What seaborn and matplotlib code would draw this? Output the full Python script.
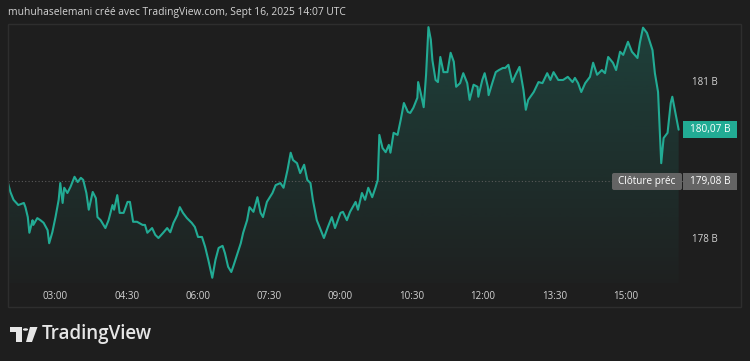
import numpy as np
import pandas as pd
import matplotlib
matplotlib.use("Agg")
import matplotlib.pyplot as plt
import matplotlib.dates as mdates
import matplotlib.transforms as mtransforms
from matplotlib.patches import Rectangle, Polygon, Circle, FancyBboxPatch
import seaborn as sns

# Données (heure locale, prix en milliards)
times = [
    "02:00", "02:03", "02:07", "02:13", "02:20", "02:22", "02:25", "02:27", "02:31", "02:32",
    "02:37", "02:41", "02:45", "02:50", "02:52", "02:56", "03:00", "03:04", "03:06", "03:09",
    "03:11", "03:15", "03:19", "03:24", "03:28", "03:32", "03:35", "03:39", "03:42", "03:47",
    "03:51", "03:53", "03:57", "04:03", "04:07", "04:12", "04:14", "04:18", "04:21", "04:26",
    "04:31", "04:34", "04:38", "04:43", "04:50", "04:53", "04:56", "05:02", "05:06", "05:10",
    "05:16", "05:21", "05:25", "05:29", "05:34", "05:37", "05:41", "05:46", "05:52", "05:56",
    "06:00", "06:05", "06:09", "06:13", "06:18", "06:22", "06:26", "06:31", "06:34", "06:38",
    "06:42", "06:45", "06:50", "06:54", "06:57", "07:02", "07:05", "07:10", "07:15", "07:19",
    "07:22", "07:27", "07:34", "07:38", "07:44", "07:48", "07:53", "07:57", "08:00", "08:05",
    "08:09", "08:14", "08:18", "08:22", "08:25", "08:30", "08:34", "08:39", "08:44", "08:49",
    "08:53", "09:00", "09:03", "09:08", "09:12", "09:19", "09:22", "09:27", "09:31", "09:35",
    "09:40", "09:44", "09:47", "09:49", "09:53", "09:57", "10:01", "10:03", "10:07", "10:12",
    "10:16", "10:20", "10:25", "10:28", "10:32", "10:37", "10:38", "10:41", "10:45", "10:48",
    "10:51", "10:54", "10:56", "11:00", "11:03", "11:06", "11:10", "11:15", "11:19", "11:23",
    "11:26", "11:31", "11:35", "11:40", "11:43", "11:48", "11:53", "11:54", "11:59", "12:02",
    "12:06", "12:07", "12:12", "12:16", "12:20", "12:25", "12:28", "12:32", "12:37", "12:41",
    "12:46", "12:51", "12:54", "12:57", "13:04", "13:10", "13:15", "13:21", "13:25", "13:29",
    "13:35", "13:41", "13:47", "13:53", "13:56", "14:00", "14:04", "14:09", "14:15", "14:19",
    "14:24", "14:30", "14:34", "14:38", "14:44", "14:48", "14:53", "14:57", "15:03", "15:08",
    "15:15", "15:18", "15:22", "15:27", "15:34", "15:37", "15:41", "15:45", "15:48", "15:53",
    "15:57", "15:59", "16:03", "16:07",
]
prices = [
    179.05, 178.88, 178.73, 178.63, 178.67, 178.59, 178.40, 178.10, 178.34, 178.25,
    178.38, 178.34, 178.29, 178.15, 177.90, 178.11, 178.40, 178.73, 179.05, 178.67,
    178.96, 178.86, 178.98, 179.17, 179.07, 179.15, 179.11, 178.86, 178.54, 178.88,
    178.76, 178.40, 178.34, 178.19, 178.34, 178.63, 178.54, 178.82, 178.48, 178.48,
    178.69, 178.69, 178.31, 178.31, 178.25, 178.25, 178.10, 178.19, 178.06, 178.00,
    178.10, 178.19, 178.11, 178.29, 178.44, 178.59, 178.48, 178.38, 178.29, 178.21,
    178.02, 178.02, 177.83, 177.58, 177.24, 177.58, 177.81, 177.85, 177.71, 177.45,
    177.35, 177.48, 177.71, 177.90, 178.10, 178.34, 178.59, 178.50, 178.78, 178.48,
    178.40, 178.69, 178.86, 179.01, 179.05, 178.96, 179.30, 179.63, 179.49, 179.43,
    179.24, 179.40, 179.11, 179.05, 178.73, 178.34, 178.19, 178.00, 178.21, 178.40,
    178.19, 178.48, 178.50, 178.34, 178.50, 178.69, 178.54, 178.86, 178.73, 178.96,
    178.78, 178.96, 179.11, 179.97, 179.72, 179.64, 179.78, 179.63, 180.01, 179.97,
    180.26, 180.58, 180.41, 180.39, 180.49, 180.68, 180.98, 180.79, 180.50, 181.12,
    182.03, 181.79, 181.40, 181.02, 180.98, 181.46, 181.17, 181.17, 181.54, 181.37,
    180.89, 180.96, 181.15, 180.96, 180.64, 180.93, 180.89, 180.70, 181.02, 181.15,
    180.89, 180.73, 180.98, 181.17, 181.21, 181.25, 181.25, 181.31, 180.98, 181.12,
    181.27, 180.83, 180.45, 180.64, 180.79, 180.98, 180.96, 181.15, 181.02, 181.17,
    181.02, 181.02, 181.08, 180.98, 181.06, 180.96, 180.79, 180.96, 181.08, 181.35,
    181.12, 181.21, 181.15, 181.46, 181.35, 181.21, 181.56, 181.50, 181.75, 181.56,
    181.44, 181.73, 182.02, 181.92, 181.59, 181.15, 180.79, 179.43, 179.91, 180.01,
    180.58, 180.70, 180.39, 180.07,
]
prev_close = 179.08
tick_times = ["03:00", "04:30", "06:00", "07:30", "09:00", "10:30", "12:00", "13:30", "15:00"]
price_ticks = [178, 181]
title = "muhuhaselemani créé avec TradingView.com, Sept 16, 2025 14:07 UTC"

BG = "#1e1e1e"
TEAL = "#22ab94"
GREY_BOX = "#646464"
TXT = "#d4d4d4"
W, H = 750, 361

sns.set_theme(style="dark", rc={"axes.facecolor": BG, "figure.facecolor": BG})
plt.rcParams["font.family"] = ["Open Sans", "DejaVu Sans"]

day = "2025-09-16 "
df = pd.DataFrame({"time": pd.to_datetime([day + t for t in times]), "price": prices})

fig = plt.figure(figsize=(W / 100, H / 100), dpi=100, facecolor=BG)
# zone de tracé en pixels : x 8..683, y 24..283
ax = fig.add_axes([8 / W, (H - 283) / H, 675 / W, 259 / H])
ax.set_facecolor(BG)

t0 = pd.Timestamp(day + "02:00")
x_lo, x_hi = t0, t0 + pd.Timedelta(minutes=852.5)
y_lo, y_hi = 177.14, 182.09

sns.lineplot(data=df, x="time", y="price", ax=ax, color=TEAL, linewidth=1.5, zorder=4)

# remplissage en dégradé sous la courbe
poly = ax.fill_between(df["time"], df["price"], y_lo, color="none", lw=0)
clip = poly.get_paths()[0]
grad = np.zeros((256, 1, 4))
grad[..., :3] = matplotlib.colors.to_rgb(TEAL)
grad[:, 0, 3] = np.linspace(0.25, 0.02, 256)
im = ax.imshow(grad, extent=[mdates.date2num(x_lo), mdates.date2num(x_hi), y_lo, y_hi],
               aspect="auto", origin="upper", zorder=2)
im.set_clip_path(clip, transform=ax.transData)

ax.axhline(prev_close, color="#5a5a5a", ls=(0, (1, 2)), lw=0.8, zorder=3)

ax.set_xlim(x_lo, x_hi)
ax.set_ylim(y_lo, y_hi)
ax.set_xticks(pd.to_datetime([day + t for t in tick_times]))
ax.xaxis.set_major_formatter(mdates.DateFormatter("%H:%M"))
ax.yaxis.tick_right()
ax.set_yticks(price_ticks)
ax.set_yticklabels([f"{v} B" for v in price_ticks])
ax.tick_params(axis="x", length=0, pad=6, labelsize=7, colors=TXT)
ax.tick_params(axis="y", length=0, pad=6.5, labelsize=7, colors=TXT)
for lab in ax.get_yticklabels():
    lab.set_horizontalalignment("left")
ax.set_xlabel("")
ax.set_ylabel("")
ax.grid(False)
for s in ax.spines.values():
    s.set_visible(False)

# cadre du graphique
fig.add_artist(Rectangle((8 / W, (H - 307) / H), 733 / W, 283 / H, transform=fig.transFigure,
                         fill=False, ec="#2e2e2e", lw=1))

fig.text(8 / W, (H - 12) / H, title, ha="left", va="center", fontsize=7.4, color=TXT)

# étiquettes de prix à droite
ident = mtransforms.IdentityTransform()


def price_box(x0, x1, value, fc, text, rounded=False):
    y = ax.transData.transform((0, value))[1]
    style = "round,pad=0,rounding_size=2" if rounded else "square,pad=0"
    fig.add_artist(FancyBboxPatch((x0, y - 8.5), x1 - x0, 17, boxstyle=style,
                                  transform=ident, fc=fc, ec="none", zorder=5))
    fig.text((x0 + x1) / 2 / W, y / H, text, ha="center", va="center",
             fontsize=7.2, color="white", zorder=6)


price_box(683, 737, prices[-1], TEAL, f"{prices[-1]:.2f} B".replace(".", ","))
price_box(612, 682, prev_close, GREY_BOX, "Clôture préc", rounded=True)
price_box(683, 737, prev_close, GREY_BOX, f"{prev_close:.2f} B".replace(".", ","))

# logo TradingView
def fy(y):
    return (H - y) / H


logo_c = "#e6e6e6"
fig.add_artist(Polygon([(10 / W, fy(327)), (22 / W, fy(327)), (22 / W, fy(342)),
                        (16 / W, fy(342)), (16 / W, fy(332)), (10 / W, fy(332))],
                       closed=True, transform=fig.transFigure, fc=logo_c, ec="none"))
fig.add_artist(Circle((25.5 / W, fy(329.5)), 2.6 / W, transform=fig.transFigure,
                      fc=logo_c, ec="none"))
fig.add_artist(Polygon([(30 / W, fy(327)), (37.5 / W, fy(327)), (32 / W, fy(342)),
                        (26 / W, fy(342))],
                       closed=True, transform=fig.transFigure, fc=logo_c, ec="none"))
fig.text(42 / W, fy(334.5), "TradingView", ha="left", va="center", fontsize=13.5,
         color=logo_c, fontweight="semibold")

fig.savefig("out.png", dpi=100, facecolor=BG)
